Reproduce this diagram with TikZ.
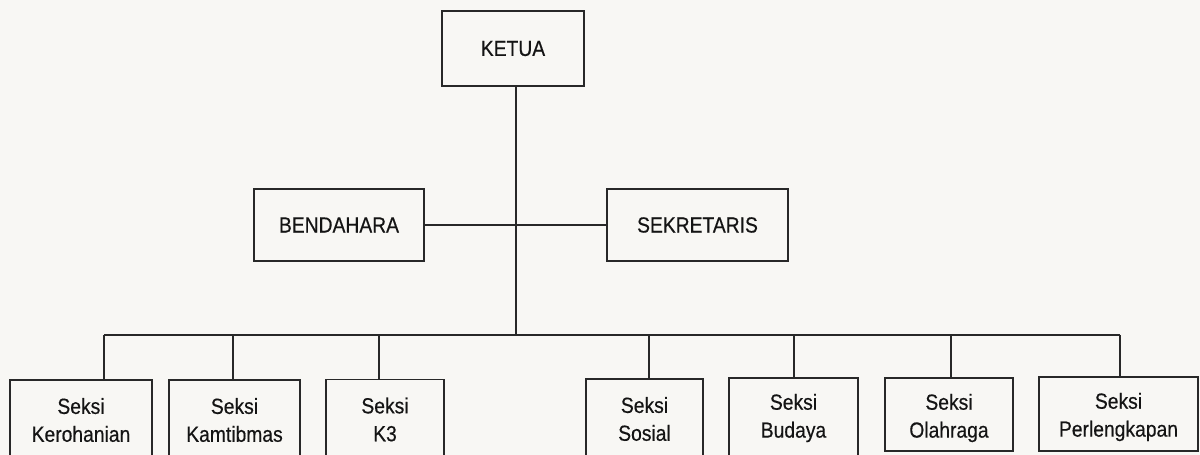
\documentclass[tikz,border=0pt]{standalone}
\usepackage{fontspec}
\setmainfont{Liberation Sans}[FakeStretch=0.88, FakeBold=0.4]
\begin{document}
\begin{tikzpicture}[x=1bp,y=-1bp,
  label box/.style={rectangle, inner sep=0pt, align=center,
    text=textc, font=\fontsize{22}{28}\selectfont},
  box/.style={label box, draw=linec, line width=1.5bp},
  wire/.style={draw=linec, line width=1.5bp}]
\definecolor{linec}{RGB}{40,40,40}
\definecolor{textc}{RGB}{20,20,20}
\definecolor{paper}{RGB}{248,247,244}
\fill[paper] (0,0) rectangle (1200,455);
\useasboundingbox (0,0) rectangle (1200,455);
\begin{scope}
\clip (0,0) rectangle (1200,455);
% top levels
\node[box, minimum width=142bp, minimum height=75bp] (ketua) at (513,48.5) {KETUA};
\node[box, minimum width=170bp, minimum height=72bp] (bend) at (339,225) {BENDAHARA};
\node[box, minimum width=181bp, minimum height=72bp] (sekr) at (697.5,225) {SEKRETARIS};
% bottom level
\node[box, minimum width=142bp, minimum height=80bp] (kero) at (81,420) {Seksi\\Kerohanian};
\node[box, minimum width=131bp, minimum height=80bp] (kamt) at (234.5,420) {Seksi\\Kamtibmas};
\node[box, minimum width=118bp, minimum height=80bp] (kthree) at (385,419.5) {Seksi\\K3};
\node[box, minimum width=117bp, minimum height=80bp] (sos) at (644.5,419) {Seksi\\Sosial};
\node[box, minimum width=129bp, minimum height=80bp] (bud) at (793.5,418) {Seksi\\Budaya};
\node[label box, minimum width=128bp, minimum height=80bp] (ola) at (949,418) {Seksi\\Olahraga};
\node[label box, minimum width=159bp, minimum height=80bp] (perl) at (1118.5,417) {Seksi\\Perlengkapan};
\draw[wire] (ola.north west) rectangle ([yshift=7bp]ola.south east);
\draw[wire] (perl.north west) rectangle ([yshift=6bp]perl.south east);
% bus coordinates
\coordinate (spine) at (516,335);
\coordinate (c1) at (104,335);
\coordinate (c2) at (233,335);
\coordinate (c3) at (379,335);
\coordinate (c4) at (649,335);
\coordinate (c5) at (794,335);
\coordinate (c6) at (951,335);
\coordinate (c7) at (1120,335);
% connectors
\draw[wire] (spine |- ketua.south) -- (spine);
\draw[wire] (bend.east) -- (sekr.west);
\draw[wire] (c1) -- (c7);
\draw[wire] (c1) -- (c1 |- kero.north);
\draw[wire] (c2) -- (c2 |- kamt.north);
\draw[wire] (c3) -- (c3 |- kthree.north);
\draw[wire] (c4) -- (c4 |- sos.north);
\draw[wire] (c5) -- (c5 |- bud.north);
\draw[wire] (c6) -- (c6 |- ola.north);
\draw[wire] (c7) -- (c7 |- perl.north);
\end{scope}
\end{tikzpicture}
\end{document}
